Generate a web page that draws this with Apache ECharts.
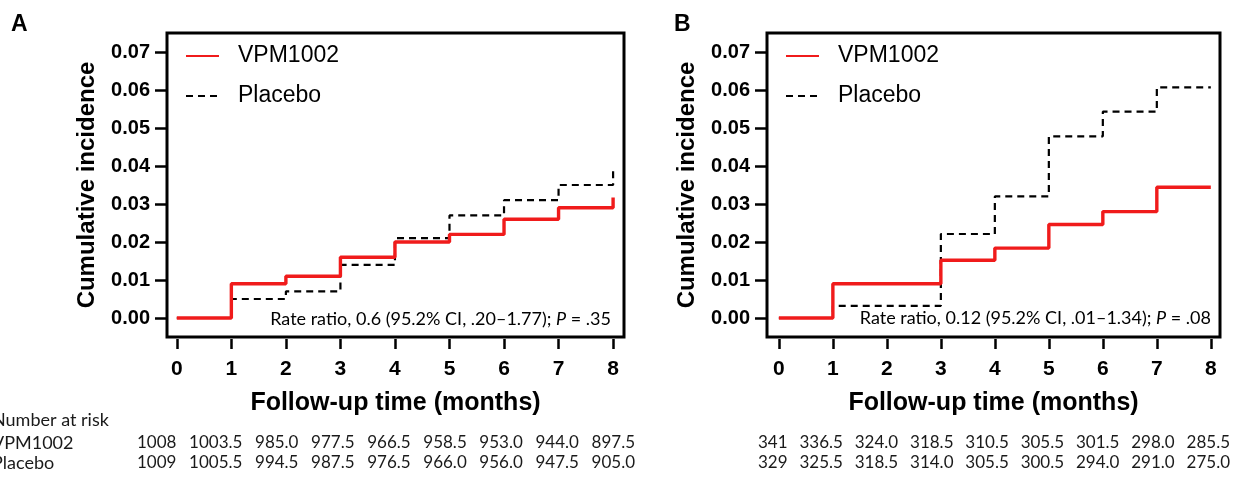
<!DOCTYPE html>
<html>
<head>
<meta charset="utf-8">
<script src="https://cdn.jsdelivr.net/npm/echarts@6/dist/echarts.min.js"></script>
<style>
  html, body { margin: 0; padding: 0; background: #fff; }
  #chart { width: 1239px; height: 479px; }
</style>
</head>
<body>
<div id="chart"></div>
<script>
  // follow-up months (x) and tick labels
  const months = [0, 1, 2, 3, 4, 5, 6, 7, 8]
  const yTicks = [0, 0.01, 0.02, 0.03, 0.04, 0.05, 0.06, 0.07]

  // cumulative incidence reached at each month (step happens at that month)
  const aVpm = [0, 0.009, 0.011, 0.016, 0.020, 0.022, 0.026, 0.029, 0.0317]
  const aPlacebo = [0, 0.005, 0.007, 0.014, 0.021, 0.027, 0.031, 0.035, 0.0388]
  const bVpm = [0, 0.009, 0.009, 0.0152, 0.0184, 0.0246, 0.028, 0.0344, 0.0344]
  const bPlacebo = [0, 0.0032, 0.0032, 0.0221, 0.032, 0.0478, 0.0543, 0.0607, 0.0607]

  // number at risk
  const riskLabels = ['Number at risk', 'VPM1002', 'Placebo']
  const aRiskVpm = ['1008', '1003.5', '985.0', '977.5', '966.5', '958.5', '953.0', '944.0', '897.5']
  const aRiskPlacebo = ['1009', '1005.5', '994.5', '987.5', '976.5', '966.0', '956.0', '947.5', '905.0']
  const bRiskVpm = ['341', '336.5', '324.0', '318.5', '310.5', '305.5', '301.5', '298.0', '285.5']
  const bRiskPlacebo = ['329', '325.5', '318.5', '314.0', '305.5', '300.5', '294.0', '291.0', '275.0']

  const aNote = ['Rate ratio, 0.6 (95.2% CI, .20–1.77); ', 'P', ' = .35']
  const bNote = ['Rate ratio, 0.12 (95.2% CI, .01–1.34); ', 'P', ' = .08']

  const RED = '#f01b1b'
  const ARIAL = "'Liberation Sans', Arial, sans-serif"
  const CALIBRI = "Lato, 'Open Sans', sans-serif"

  function pts (vals) {
    return months.map((m, i) => [m, vals[i]])
  }

  function xAxis (idx, min, max) {
    return {
      type: 'value', gridIndex: idx, min: min, max: max, offset: 2,
      name: 'Follow-up time (months)', nameLocation: 'middle', nameGap: 52,
      nameTextStyle: { fontFamily: ARIAL, fontWeight: 'bold', fontSize: 25, color: '#000' },
      axisLine: { show: false, onZero: false },
      axisTick: { show: true, length: 10, customValues: months, lineStyle: { color: '#000', width: 2.5 } },
      axisLabel: { customValues: months, margin: 20, fontFamily: ARIAL, fontWeight: 'bold', fontSize: 21, color: '#000' },
      splitLine: { show: false }
    }
  }

  function yAxis (idx) {
    return {
      type: 'value', gridIndex: idx, min: -0.005, max: 0.075,
      name: 'Cumulative incidence', nameLocation: 'middle', nameGap: 68,
      nameTextStyle: { fontFamily: ARIAL, fontWeight: 'bold', fontSize: 24, color: '#000' },
      axisLine: { show: false, onZero: false },
      axisTick: { show: true, length: 12, customValues: yTicks, lineStyle: { color: '#000', width: 2.5 } },
      axisLabel: {
        customValues: yTicks, margin: 17, fontFamily: ARIAL, fontWeight: 'bold', fontSize: 20, color: '#000',
        formatter: v => v.toFixed(2)
      },
      splitLine: { show: false }
    }
  }

  function stepSeries (name, vals, idx) {
    const isRed = name === 'VPM1002'
    return {
      name: name, type: 'line', step: 'end', xAxisIndex: idx, yAxisIndex: idx,
      data: pts(vals), symbol: 'none', silent: true, z: isRed ? 4 : 2,
      lineStyle: isRed ? { color: RED, width: 3.4 } : { color: '#000', width: 2.2, type: [7, 5] },
      itemStyle: { color: isRed ? RED : '#000', opacity: 0 }
    }
  }

  function legend (left) {
    return {
      left: left, top: 43, orient: 'vertical', padding: 0, itemGap: 14,
      itemWidth: 33, itemHeight: 14, selectedMode: false,
      itemStyle: { opacity: 0 },
      data: ['VPM1002', 'Placebo'],
      textStyle: { fontFamily: ARIAL, fontSize: 23, color: '#000', lineHeight: 26, padding: [0, 0, 0, 14] }
    }
  }

  // number-at-risk rows, numbers spread over a fixed span
  const ctx = document.createElement('canvas').getContext('2d')
  const riskFont = '17px ' + CALIBRI
  const labelFont = '18px ' + CALIBRI
  ctx.font = riskFont
  function riskRow (vals, x0, x1, y) {
    const widths = vals.map(s => ctx.measureText(s).width)
    const total = widths.reduce((a, b) => a + b, 0)
    const gap = (x1 - x0 - total) / (vals.length - 1)
    let x = x0
    return vals.map((s, i) => {
      const el = { type: 'text', x: x, y: y, style: { text: s, font: riskFont, fill: '#1a1a1a', textVerticalAlign: 'middle' } }
      x += widths[i] + gap
      return el
    })
  }

  function note (parts, right, y) {
    return {
      type: 'text', x: right, y: y,
      style: {
        text: '{a|' + parts[0] + '}{i|' + parts[1] + '}{a|' + parts[2] + '}',
        align: 'right', verticalAlign: 'middle',
        rich: {
          a: { fontFamily: CALIBRI, fontSize: 18, color: '#1a1a1a' },
          i: { fontFamily: CALIBRI, fontSize: 18, fontStyle: 'italic', color: '#1a1a1a' }
        }
      }
    }
  }

  const graphics = [
    { type: 'text', x: 11, y: 25, style: { text: 'A', font: 'bold 23px ' + ARIAL, fill: '#000', textVerticalAlign: 'middle' } },
    { type: 'text', x: 674, y: 25, style: { text: 'B', font: 'bold 23px ' + ARIAL, fill: '#000', textVerticalAlign: 'middle' } },
    note(aNote, 611, 319),
    note(bNote, 1211, 318)
  ]
  riskLabels.forEach((t, i) => {
    graphics.push({ type: 'text', x: -8, y: 420 + (i === 0 ? 0 : 3 + 20 * i), style: { text: t, font: labelFont, fill: '#1a1a1a', textVerticalAlign: 'middle' } })
  })
  graphics.push(...riskRow(aRiskVpm, 137, 635, 443))
  graphics.push(...riskRow(aRiskPlacebo, 137, 635, 463))
  graphics.push(...riskRow(bRiskVpm, 758, 1230, 443))
  graphics.push(...riskRow(bRiskPlacebo, 758, 1230, 463))

  const myecharts = echarts.init(document.getElementById('chart'))
  myecharts.setOption({
    animation: false,
    backgroundColor: '#fff',
    grid: [
      { left: 167, top: 33, width: 457, height: 304, show: true, borderColor: '#000', borderWidth: 3 },
      { left: 767, top: 33, width: 453, height: 304, show: true, borderColor: '#000', borderWidth: 3 }
    ],
    legend: [legend(185), legend(785)],
    xAxis: [xAxis(0, -0.18, 8.2), xAxis(1, -0.22, 8.17)],
    yAxis: [yAxis(0), yAxis(1)],
    series: [
      stepSeries('Placebo', aPlacebo, 0),
      stepSeries('VPM1002', aVpm, 0),
      stepSeries('Placebo', bPlacebo, 1),
      stepSeries('VPM1002', bVpm, 1)
    ],
    graphic: graphics
  })
</script>
</body>
</html>
